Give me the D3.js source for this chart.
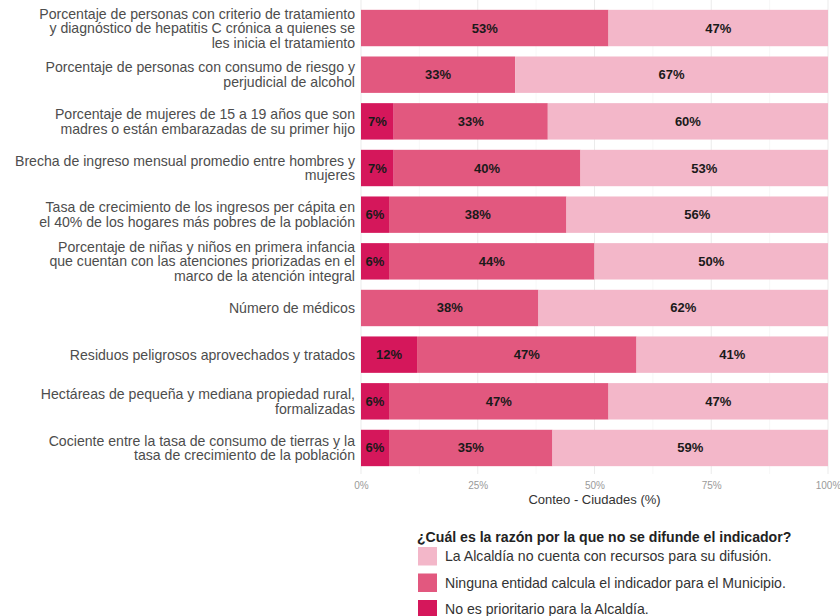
<!DOCTYPE html>
<html><head><meta charset="utf-8">
<script src="https://cdn.jsdelivr.net/npm/d3@7"></script>
<style>body{margin:0;background:#fff}svg{display:block;font-family:"Liberation Sans",Arial,sans-serif}</style>
</head><body><svg id="c" width="840" height="616"></svg>
<script>
const categories = [
  "Porcentaje de personas con criterio de tratamiento\ny diagnóstico de hepatitis C crónica a quienes se\nles inicia el tratamiento",
  "Porcentaje de personas con consumo de riesgo y\nperjudicial de alcohol",
  "Porcentaje de mujeres de 15 a 19 años que son\nmadres o están embarazadas de su primer hijo",
  "Brecha de ingreso mensual promedio entre hombres y\nmujeres",
  "Tasa de crecimiento de los ingresos per cápita en\nel 40% de los hogares más pobres de la población",
  "Porcentaje de niñas y niños en primera infancia\nque cuentan con las atenciones priorizadas en el\nmarco de la atención integral",
  "Número de médicos",
  "Residuos peligrosos aprovechados y tratados",
  "Hectáreas de pequeña y mediana propiedad rural,\nformalizadas",
  "Cociente entre la tasa de consumo de tierras y la\ntasa de crecimiento de la población"
];
const noPrioritario = [0, 0, 7, 7, 6, 6, 0, 12, 6, 6];
const ningunaEntidad = [53, 33, 33, 40, 38, 44, 38, 47, 47, 35];
const sinRecursos = [47, 67, 60, 53, 56, 50, 62, 41, 47, 59];
const seriesNames = ["No es prioritario para la Alcaldía.", "Ninguna entidad calcula el indicador para el Municipio.", "La Alcaldía no cuenta con recursos para su difusión."];
const legendOrder = [2, 1, 0];
const xTicks = [0, 25, 50, 75, 100];
const xTickLabels = ["0%", "25%", "50%", "75%", "100%"];
const colors = ["#D5175B", "#E2587F", "#F3B7C9"];

const svg = d3.select("#c");
const x = d3.scaleLinear().domain([0, 100]).range([361, 828]);
const y = d3.scaleBand().domain(d3.range(categories.length)).range([4.7, 471.3]).paddingInner(0.22).paddingOuter(0.11);

// grid
const minor = [12.5, 37.5, 62.5, 87.5];
svg.append("g").selectAll("line").data(minor).join("line")
  .attr("x1", d => x(d)).attr("x2", d => x(d)).attr("y1", 0).attr("y2", 474)
  .attr("stroke", "#f3f3f3").attr("stroke-width", 0.6);
svg.append("g").selectAll("line").data(xTicks).join("line")
  .attr("x1", d => x(d)).attr("x2", d => x(d)).attr("y1", 0).attr("y2", 474)
  .attr("stroke", "#ebebeb").attr("stroke-width", 1);

const data = categories.map((c, i) => {
  const vals = [noPrioritario[i], ningunaEntidad[i], sinRecursos[i]];
  let acc = 0;
  return vals.map((v, k) => { const s = acc; acc += v; return {i, k, v, s, e: acc}; });
}).flat();

svg.append("g").selectAll("rect").data(data.filter(d => d.v > 0)).join("rect")
  .attr("x", d => x(d.s)).attr("width", d => x(d.e) - x(d.s))
  .attr("y", d => y(d.i)).attr("height", y.bandwidth())
  .attr("fill", d => colors[d.k]);

svg.append("g").selectAll("text").data(data.filter(d => d.v > 0)).join("text")
  .attr("x", d => x((d.s + d.e) / 2)).attr("y", d => y(d.i) + y.bandwidth() / 2 + 4.5)
  .attr("text-anchor", "middle").attr("font-size", 13).attr("font-weight", "bold").attr("fill", "#1a1a1a")
  .text(d => d.v + "%");

// y labels
const yl = svg.append("g");
categories.forEach((c, i) => {
  const lines = c.split("\n");
  const cy = y(i) + y.bandwidth() / 2;
  const lh = 14.5;
  const t = yl.append("text").attr("text-anchor", "end").attr("font-size", 14.1).attr("fill", "#4d4d4d");
  lines.forEach((ln, j) => {
    t.append("tspan").attr("x", 355).attr("y", cy + (j - (lines.length - 1) / 2) * lh + 5).text(ln);
  });
});

// x axis
const xAxis = d3.axisBottom(x).tickValues(xTicks).tickFormat((d, i) => xTickLabels[i]).tickSize(0).tickPadding(0);
const gx = svg.append("g").attr("transform", "translate(0,482)").call(xAxis);
gx.select(".domain").remove();
gx.selectAll("text").attr("font-size", 10).attr("fill", "#9a9a9a").attr("font-family", "Liberation Sans, Arial, sans-serif");

svg.append("text").attr("x", x(50)).attr("y", 504).attr("text-anchor", "middle")
  .attr("font-size", 13).attr("fill", "#333").text("Conteo - Ciudades (%)");

// legend
svg.append("text").attr("x", 417).attr("y", 542).attr("font-size", 14.1).attr("font-weight", "bold").attr("fill", "#222")
  .text("¿Cuál es la razón por la que no se difunde el indicador?");
const lg = svg.append("g").selectAll("g").data(legendOrder).join("g")
  .attr("transform", (d, j) => `translate(418,${547 + j * 26.5})`);
lg.append("rect").attr("width", 19).attr("height", 18.5).attr("fill", d => colors[d]);
lg.append("text").attr("x", 27).attr("y", 14).attr("font-size", 14.1).attr("fill", "#333").text(d => seriesNames[d]);
</script></body></html>
